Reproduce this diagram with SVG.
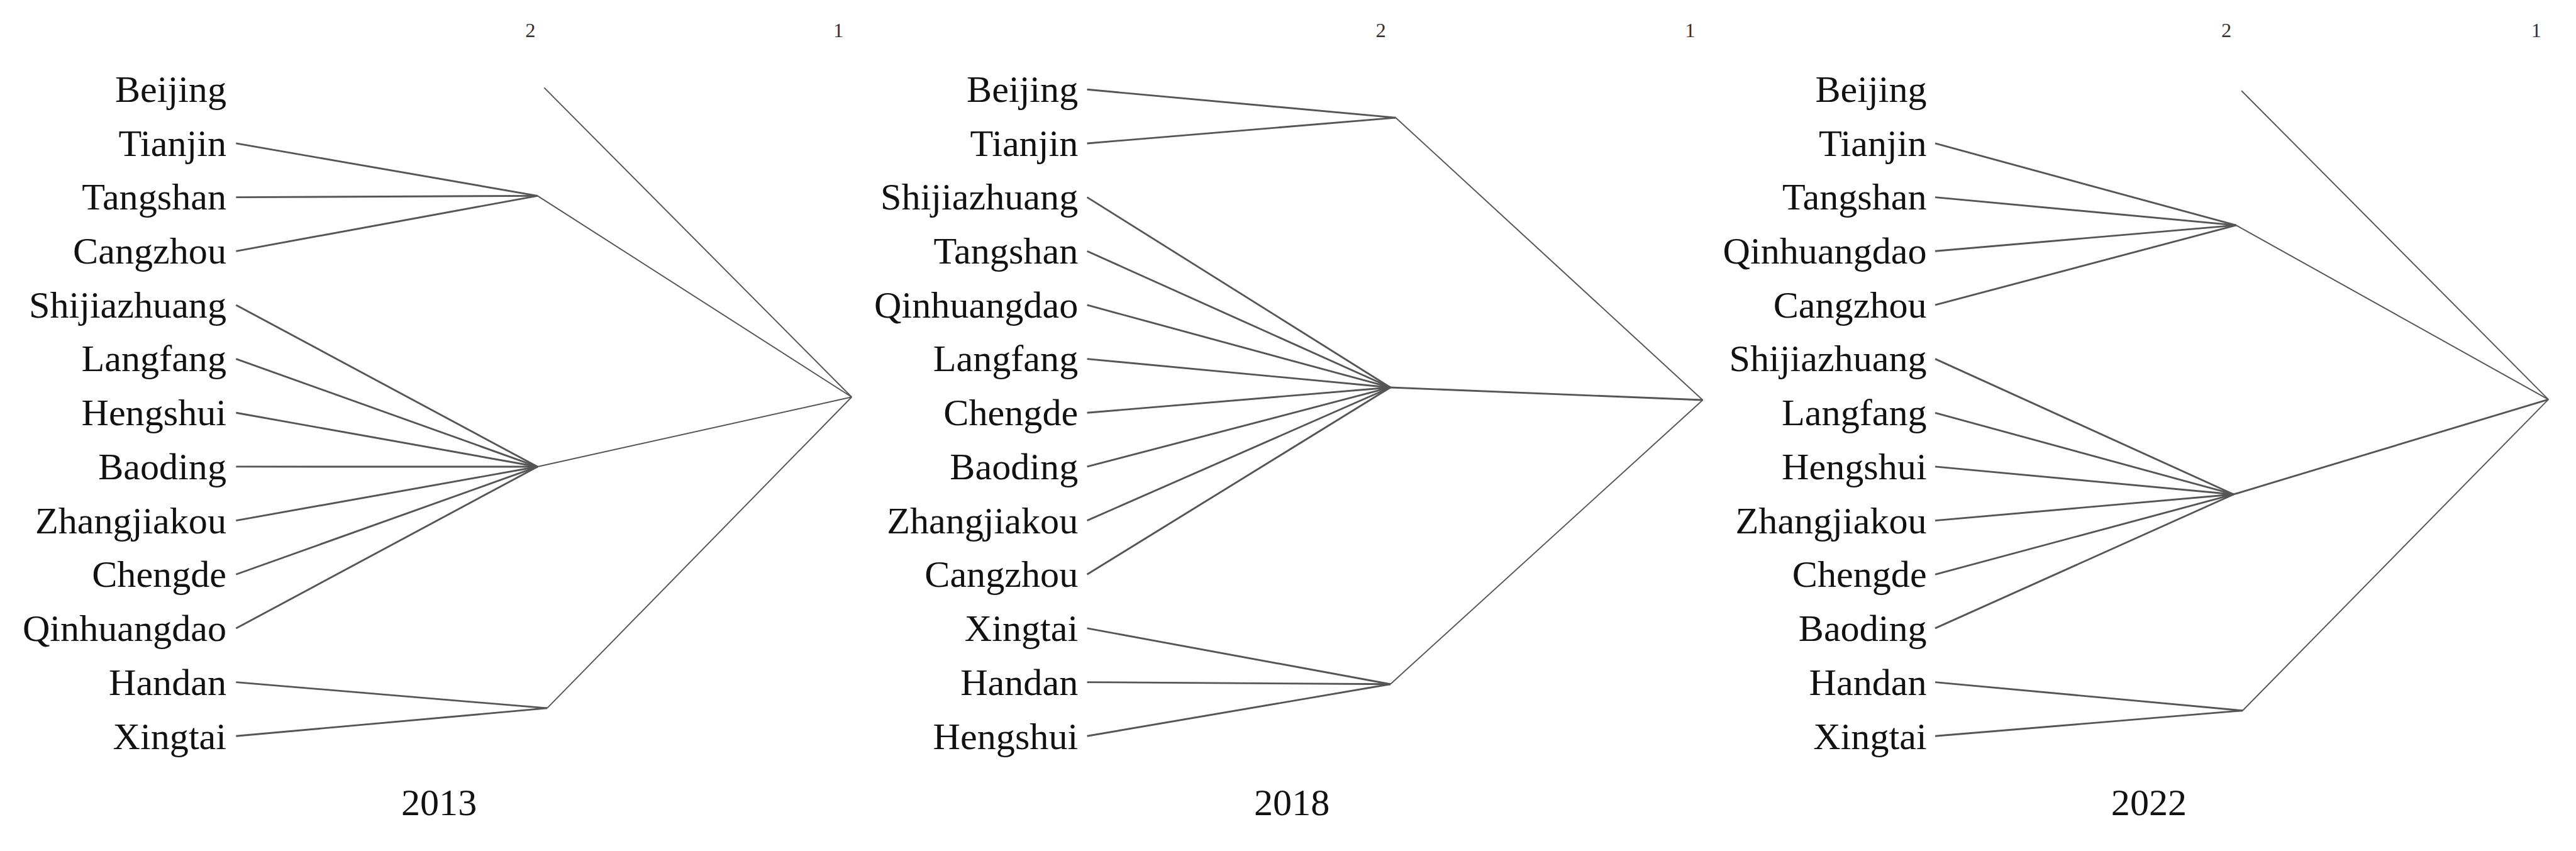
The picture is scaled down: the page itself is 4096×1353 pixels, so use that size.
<svg xmlns="http://www.w3.org/2000/svg" width="4096" height="1353" viewBox="0 0 4096 1353">
<style>
.lbl{font-family:"Liberation Serif","Times New Roman",serif;font-size:63px;fill:#111;text-anchor:end}
.yr{font-family:"Liberation Serif","Times New Roman",serif;font-size:63px;fill:#111;text-anchor:middle}
.ax{font-family:"Liberation Serif","Times New Roman",serif;font-size:34px;fill:#333;text-anchor:middle}
.leaf{stroke:#555;stroke-width:3;fill:none}
.br{stroke:#555;stroke-width:2;fill:none}
</style>
<rect width="4096" height="1353" fill="#fff"/>
<g transform="scale(0.955)">
<!-- Panel 2013 -->
<g id="p2013">
<g id="p2013-labels">
<text class="lbl" x="377" y="170">Beijing</text>
<text class="lbl" x="377" y="260">Tianjin</text>
<text class="lbl" x="377" y="349">Tangshan</text>
<text class="lbl" x="377" y="439">Cangzhou</text>
<text class="lbl" x="377" y="529">Shijiazhuang</text>
<text class="lbl" x="377" y="618">Langfang</text>
<text class="lbl" x="377" y="708">Hengshui</text>
<text class="lbl" x="377" y="798">Baoding</text>
<text class="lbl" x="377" y="888">Zhangjiakou</text>
<text class="lbl" x="377" y="977">Chengde</text>
<text class="lbl" x="377" y="1067">Qinhuangdao</text>
<text class="lbl" x="377" y="1157">Handan</text>
<text class="lbl" x="377" y="1247">Xingtai</text>
</g>
<text class="ax" x="883" y="62">2</text>
<text class="ax" x="1396" y="62">1</text>
<text class="yr" x="731" y="1357">2013</text>
<g id="p2013-connectors">
<line class="leaf" x1="393" y1="238.7" x2="895" y2="326"/>
<line class="leaf" x1="393" y1="328.4" x2="895" y2="326"/>
<line class="leaf" x1="393" y1="418.1" x2="895" y2="326"/>
<line class="leaf" x1="393" y1="507.8" x2="895" y2="777"/>
<line class="leaf" x1="393" y1="597.5" x2="895" y2="777"/>
<line class="leaf" x1="393" y1="687.2" x2="895" y2="777"/>
<line class="leaf" x1="393" y1="776.9" x2="895" y2="777"/>
<line class="leaf" x1="393" y1="866.6" x2="895" y2="777"/>
<line class="leaf" x1="393" y1="956.3" x2="895" y2="777"/>
<line class="leaf" x1="393" y1="1046" x2="895" y2="777"/>
<line class="leaf" x1="393" y1="1135.7" x2="911" y2="1179"/>
<line class="leaf" x1="393" y1="1225.4" x2="911" y2="1179"/>
<line class="br" x1="906" y1="146" x2="1418" y2="661"/>
<line class="br" x1="895" y1="326" x2="1418" y2="661"/>
<line class="br" x1="895" y1="777" x2="1418" y2="661"/>
<line class="br" x1="911" y1="1179" x2="1418" y2="661"/>
</g>
</g>
<!-- Panel 2018 -->
<g id="p2018">
<g id="p2018-labels">
<text class="lbl" x="1795" y="170">Beijing</text>
<text class="lbl" x="1795" y="260">Tianjin</text>
<text class="lbl" x="1795" y="349">Shijiazhuang</text>
<text class="lbl" x="1795" y="439">Tangshan</text>
<text class="lbl" x="1795" y="529">Qinhuangdao</text>
<text class="lbl" x="1795" y="618">Langfang</text>
<text class="lbl" x="1795" y="708">Chengde</text>
<text class="lbl" x="1795" y="798">Baoding</text>
<text class="lbl" x="1795" y="888">Zhangjiakou</text>
<text class="lbl" x="1795" y="977">Cangzhou</text>
<text class="lbl" x="1795" y="1067">Xingtai</text>
<text class="lbl" x="1795" y="1157">Handan</text>
<text class="lbl" x="1795" y="1247">Hengshui</text>
</g>
<text class="ax" x="2299" y="62">2</text>
<text class="ax" x="2814" y="62">1</text>
<text class="yr" x="2151" y="1357">2018</text>
<g id="p2018-connectors">
<line class="leaf" x1="1810" y1="149" x2="2324" y2="196"/>
<line class="leaf" x1="1810" y1="238.7" x2="2324" y2="196"/>
<line class="leaf" x1="1810" y1="328.4" x2="2315" y2="645"/>
<line class="leaf" x1="1810" y1="418.1" x2="2315" y2="645"/>
<line class="leaf" x1="1810" y1="507.8" x2="2315" y2="645"/>
<line class="leaf" x1="1810" y1="597.5" x2="2315" y2="645"/>
<line class="leaf" x1="1810" y1="687.2" x2="2315" y2="645"/>
<line class="leaf" x1="1810" y1="776.9" x2="2315" y2="645"/>
<line class="leaf" x1="1810" y1="866.6" x2="2315" y2="645"/>
<line class="leaf" x1="1810" y1="956.3" x2="2315" y2="645"/>
<line class="leaf" x1="1810" y1="1046" x2="2315" y2="1139"/>
<line class="leaf" x1="1810" y1="1135.7" x2="2315" y2="1139"/>
<line class="leaf" x1="1810" y1="1225.4" x2="2315" y2="1139"/>
<line class="br" x1="2324" y1="196" x2="2835" y2="666"/>
<line class="leaf" x1="2315" y1="645" x2="2835" y2="666"/>
<line class="br" x1="2315" y1="1139" x2="2835" y2="666"/>
</g>
</g>
<!-- Panel 2022 -->
<g id="p2022">
<g id="p2022-labels">
<text class="lbl" x="3208" y="170">Beijing</text>
<text class="lbl" x="3208" y="260">Tianjin</text>
<text class="lbl" x="3208" y="349">Tangshan</text>
<text class="lbl" x="3208" y="439">Qinhuangdao</text>
<text class="lbl" x="3208" y="529">Cangzhou</text>
<text class="lbl" x="3208" y="618">Shijiazhuang</text>
<text class="lbl" x="3208" y="708">Langfang</text>
<text class="lbl" x="3208" y="798">Hengshui</text>
<text class="lbl" x="3208" y="888">Zhangjiakou</text>
<text class="lbl" x="3208" y="977">Chengde</text>
<text class="lbl" x="3208" y="1067">Baoding</text>
<text class="lbl" x="3208" y="1157">Handan</text>
<text class="lbl" x="3208" y="1247">Xingtai</text>
</g>
<text class="ax" x="3707" y="62">2</text>
<text class="ax" x="4223" y="62">1</text>
<text class="yr" x="3578" y="1357">2022</text>
<g id="p2022-connectors">
<line class="leaf" x1="3222" y1="238.7" x2="3723" y2="375"/>
<line class="leaf" x1="3222" y1="328.4" x2="3723" y2="375"/>
<line class="leaf" x1="3222" y1="418.1" x2="3723" y2="375"/>
<line class="leaf" x1="3222" y1="507.8" x2="3723" y2="375"/>
<line class="leaf" x1="3222" y1="597.5" x2="3719" y2="823"/>
<line class="leaf" x1="3222" y1="687.2" x2="3719" y2="823"/>
<line class="leaf" x1="3222" y1="776.9" x2="3719" y2="823"/>
<line class="leaf" x1="3222" y1="866.6" x2="3719" y2="823"/>
<line class="leaf" x1="3222" y1="956.3" x2="3719" y2="823"/>
<line class="leaf" x1="3222" y1="1046" x2="3719" y2="823"/>
<line class="leaf" x1="3222" y1="1135.7" x2="3734" y2="1183"/>
<line class="leaf" x1="3222" y1="1225.4" x2="3734" y2="1183"/>
<line class="br" x1="3732" y1="151" x2="4243" y2="665"/>
<line class="br" x1="3723" y1="375" x2="4243" y2="665"/>
<line class="leaf" x1="3719" y1="823" x2="4243" y2="665"/>
<line class="br" x1="3734" y1="1183" x2="4243" y2="665"/>
</g>
</g>
</g>
</svg>
